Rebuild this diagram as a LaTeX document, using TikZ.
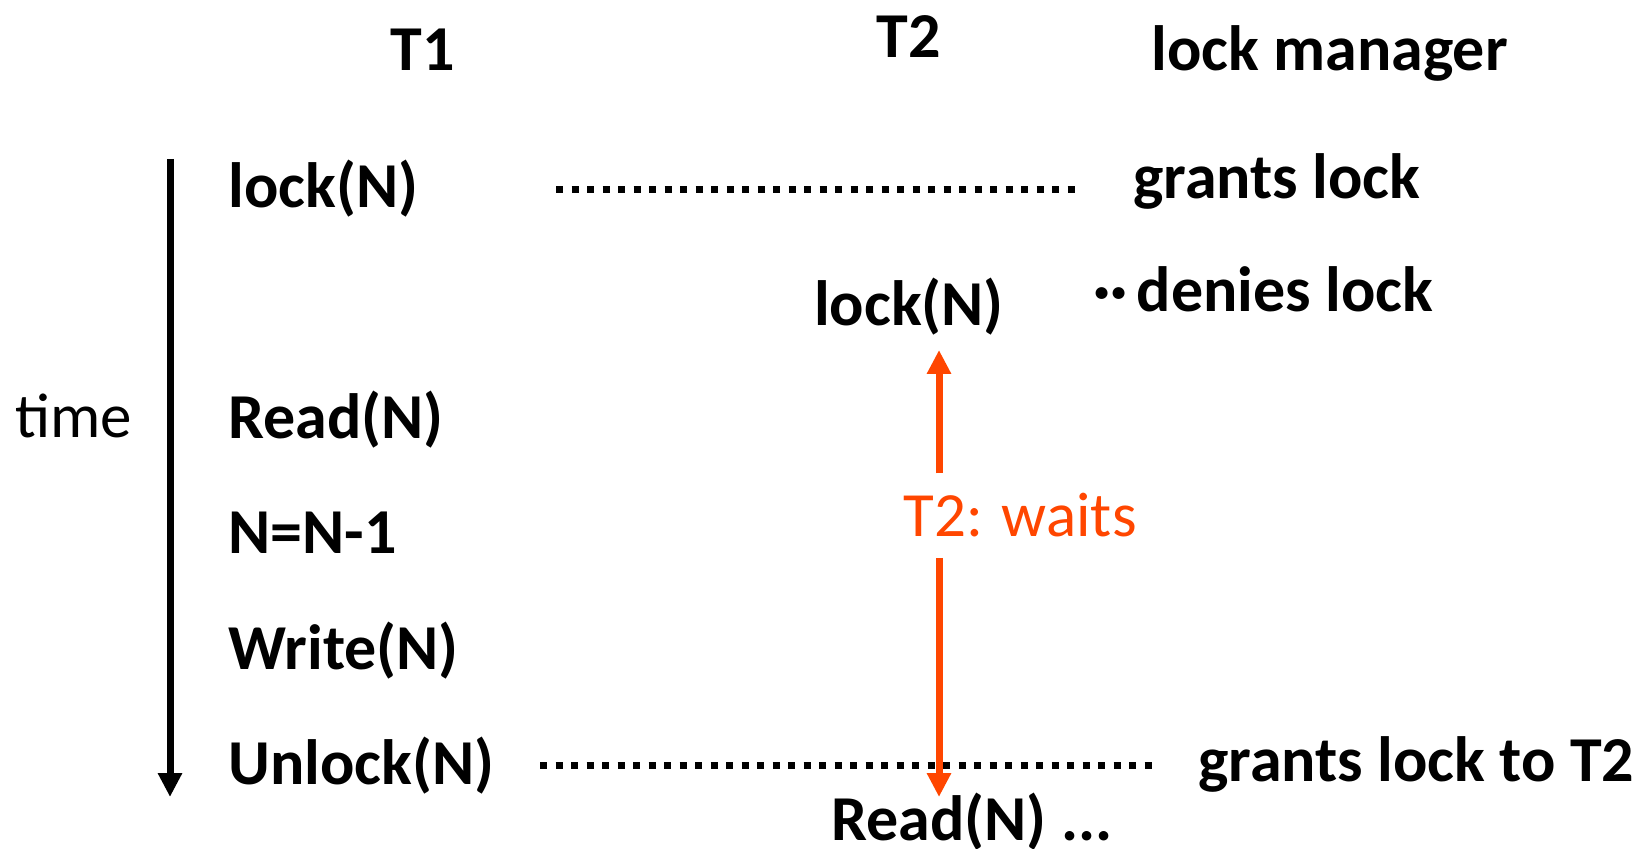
\documentclass[tikz,border=0pt]{standalone}
\usepackage{fontspec}
\setmainfont{Carlito}
\usetikzlibrary{arrows.meta}
\definecolor{waitorange}{RGB}{255,70,0}

\begin{document}
\begin{tikzpicture}[x=0.5pt,y=-0.5pt,
   lbl/.style={inner sep=0pt,font=\fontsize{32}{38}\selectfont\bfseries},
   plain/.style={inner sep=0pt,font=\fontsize{31.5}{38}\selectfont},
   axisline/.style={line width=3.5pt,-{Triangle[width=11.5pt,length=12pt]}},
   msgline/.style={line width=3.5pt,dash pattern=on 3.5pt off 4.25pt},
   waitline/.style={waitorange,line width=3.5pt,-{Triangle[width=11.5pt,length=12pt]}}]
   \useasboundingbox (0,0) rectangle (1639,849);
   \node[lbl,anchor=base] (hdrA) at (423,71) {T1};
   \node[lbl,anchor=base] (hdrB) at (909,58) {T2};
   \node[lbl,anchor=base west] (hdrM) at (1151,71) {lock manager};
   \node[lbl,anchor=base west] (aLock) at (228,208) {lock(N)};
   \node[lbl,anchor=base west] (aRead) at (228,439) {Read(N)};
   \node[lbl,anchor=base west] (aDec) at (228,554) {N=N-1};
   \node[lbl,anchor=base west] (aWrite) at (228,669) {Write(N)};
   \node[lbl,anchor=base west] (aUnlock) at (228,784) {Unlock(N)};
   \node[lbl,anchor=base] (bLock) at (909,326) {lock(N)};
   \node[lbl,anchor=base west] (bRead) at (831,840) {Read(N) ...};
   \node[lbl,anchor=base west] (mGrant) at (1133,199) {grants lock};
   \node[lbl,anchor=base west] (mDeny) at (1093,312) {··\hspace{4.5pt}denies lock};
   \node[lbl,anchor=base west] (mGrantB) at (1198,782) {grants lock to T2};
   \node[plain,anchor=base west] (tLbl) at (15,438) {time};
   \node[plain,anchor=base west,text=waitorange,inner ysep=10pt] (waits) at (903,537) {T2: waits};
   \coordinate (tTop) at (170,159);
   \coordinate (tBot) at (170,797);
   \draw[axisline] (tTop) -- (tBot);
   \coordinate (wTop) at (939,350);
   \coordinate (wBot) at (939,797);
   \draw[waitline] (waits.north -| wTop) -- (wTop);
   \draw[waitline] (waits.south -| wTop) -- (wBot);
   \coordinate (gA) at (556,190);
   \coordinate (gB) at (1075,190);
   \draw[msgline] (gA) -- (gB);
   \coordinate (uA) at (540,765);
   \coordinate (uB) at (1155,765);
   \draw[msgline] (uA) -- (uB);
\end{tikzpicture}
\end{document}
